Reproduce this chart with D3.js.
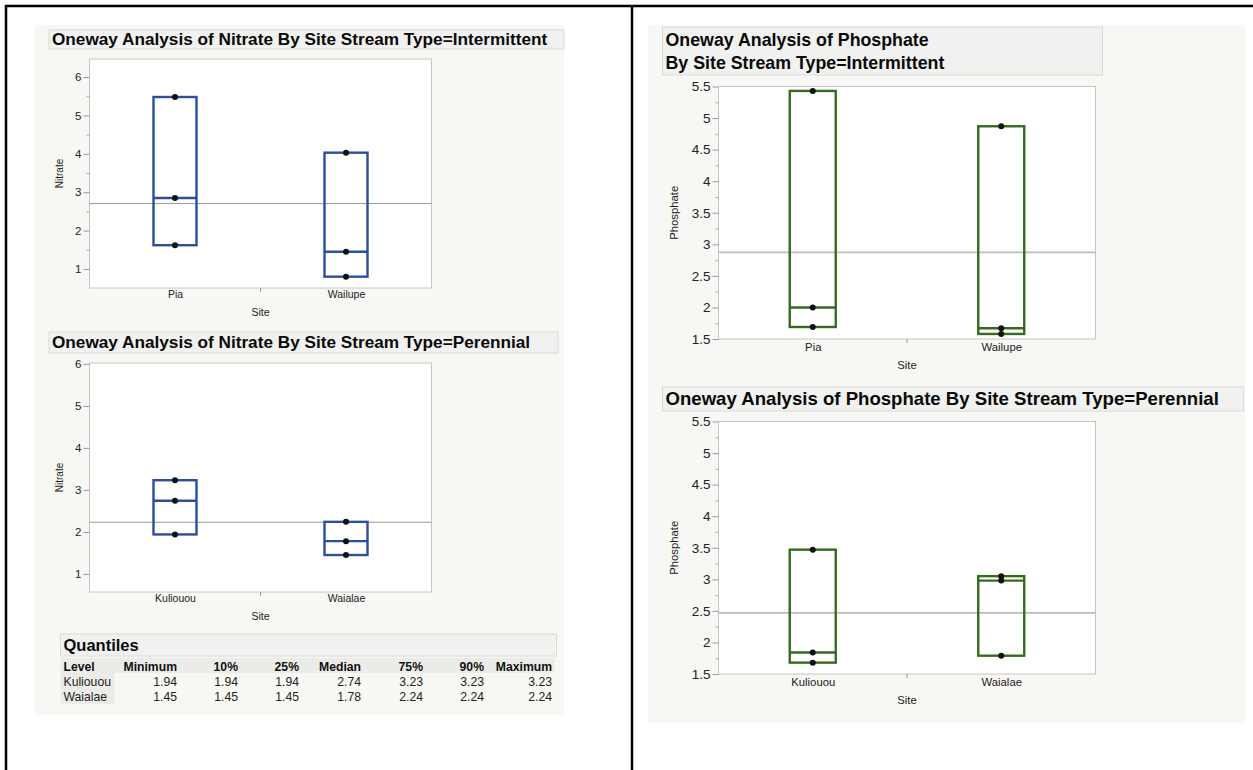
<!DOCTYPE html>
<html>
<head>
<meta charset="utf-8">
<script src="https://cdn.jsdelivr.net/npm/d3@7/dist/d3.min.js"></script>
<style>
  body { margin: 0; background: #fff; }
  svg { display: block; font-family: "Liberation Sans", Arial, Helvetica, sans-serif; }
</style>
</head>
<body>
<div id="container"></div>
<script>
// values: [min, median, max] per site (3 samples each)
const nitrateInterSites = ["Pia", "Wailupe"];
const nitrateInterValues = [[1.62, 2.85, 5.48], [0.80, 1.45, 4.03]];
const nitratePerSites = ["Kuliouou", "Waialae"];
const nitratePerValues = [[1.94, 2.74, 3.23], [1.45, 1.78, 2.24]];
const phosInterSites = ["Pia", "Wailupe"];
const phosInterValues = [[1.69, 2.00, 5.43], [1.58, 1.67, 4.87]];
const phosPerSites = ["Kuliouou", "Waialae"];
const phosPerValues = [[1.68, 1.84, 3.47], [1.79, 2.98, 3.05]];

const nitrateTicks = [1, 2, 3, 4, 5, 6];
const nitrateMinor = [1.5, 2.5, 3.5, 4.5, 5.5];
const phosTicks = [1.5, 2, 2.5, 3, 3.5, 4, 4.5, 5, 5.5];
const phosMinor = [1.75, 2.25, 2.75, 3.25, 3.75, 4.25, 4.75, 5.25];

const quantileHeaders = ["Level", "Minimum", "10%", "25%", "Median", "75%", "90%", "Maximum"];
const quantileLevels = ["Kuliouou", "Waialae"];
const quantileValues = [
  [1.94, 1.94, 1.94, 2.74, 3.23, 3.23, 3.23],
  [1.45, 1.45, 1.45, 1.78, 2.24, 2.24, 2.24]
];

const W = 1253, H = 770;
const blue = "#2b4e9e";
const green = "#366a1f";

const svg = d3.select("#container").append("svg")
  .attr("width", W).attr("height", H);

// panel backgrounds
svg.append("rect").attr("x", 35).attr("y", 25).attr("width", 529).attr("height", 690).attr("fill", "#f7f7f3");
svg.append("rect").attr("x", 648).attr("y", 25).attr("width", 597).attr("height", 698).attr("fill", "#f7f7f3");

// page borders
svg.append("line").attr("x1", 5).attr("x2", W).attr("y1", 6).attr("y2", 6).attr("stroke", "#000").attr("stroke-width", 2.5);
svg.append("line").attr("x1", 6).attr("x2", 6).attr("y1", 5).attr("y2", H).attr("stroke", "#000").attr("stroke-width", 2.5);
svg.append("line").attr("x1", 632).attr("x2", 632).attr("y1", 5).attr("y2", H).attr("stroke", "#000").attr("stroke-width", 2.5);

function titleBox(x, y, w, h, lines, size, baselines) {
  svg.append("rect").attr("x", x).attr("y", y).attr("width", w).attr("height", h)
    .attr("fill", "#f1f1f0").attr("stroke", "#dadada");
  svg.selectAll(null).data(lines).enter().append("text")
    .attr("x", x + 3).attr("y", (d, i) => baselines[i])
    .attr("font-size", size).attr("font-weight", "bold").attr("fill", "#0a0a0a")
    .text(d => d);
}

function oneway(o) {
  const y = d3.scaleLinear().domain(o.domain).range([o.y + o.h, o.y]);
  const x = d3.scalePoint().domain(o.sites).range([o.x, o.x + o.w]).padding(0.5);
  const g = svg.append("g");

  g.append("rect").attr("x", o.x).attr("y", o.y).attr("width", o.w).attr("height", o.h)
    .attr("fill", "#fff").attr("stroke", "#c6c6c6");

  // grand mean
  const mean = d3.mean(o.values.flat());
  g.append("line").attr("x1", o.x).attr("x2", o.x + o.w)
    .attr("y1", y(mean)).attr("y2", y(mean))
    .attr("stroke", o.meanColor).attr("stroke-width", o.meanWidth);

  const yAxis = g.append("g").attr("transform", `translate(${o.x},0)`)
    .call(d3.axisLeft(y).tickValues(o.ticks).tickSize(6).tickPadding(2).tickFormat(d3.format("")));
  yAxis.select(".domain").remove();
  yAxis.selectAll("line").attr("stroke", "#999");
  yAxis.selectAll("text").attr("fill", "#222").attr("font-size", o.tickFont)
    .attr("font-family", "Liberation Sans, Arial, sans-serif");

  if (o.minor) {
    const m = g.append("g").attr("transform", `translate(${o.x},0)`)
      .call(d3.axisLeft(y).tickValues(o.minor).tickSize(3).tickFormat(""));
    m.select(".domain").remove();
    m.selectAll("line").attr("stroke", "#aaa");
  }

  const xAxis = g.append("g").attr("transform", `translate(0,${o.y + o.h})`)
    .call(d3.axisBottom(x).tickSize(0).tickPadding(o.xPad));
  xAxis.select(".domain").remove();
  xAxis.selectAll("text").attr("fill", "#222").attr("font-size", o.labelFont)
    .attr("font-family", "Liberation Sans, Arial, sans-serif");
  g.append("line").attr("x1", o.x + o.w / 2).attr("x2", o.x + o.w / 2)
    .attr("y1", o.y + o.h).attr("y2", o.y + o.h + 4).attr("stroke", "#999");

  g.append("text").attr("x", o.x + o.w / 2).attr("y", o.y + o.h + o.siteOff)
    .attr("text-anchor", "middle").attr("font-size", o.labelFont).attr("fill", "#222").text("Site");
  g.append("text")
    .attr("transform", `translate(${o.yLabelX},${o.y + o.h / 2}) rotate(-90)`)
    .attr("dy", "0.35em").attr("text-anchor", "middle")
    .attr("font-size", o.yLabelFont).attr("fill", "#222").text(o.yLabel);

  const sites = g.selectAll(".site").data(o.values).enter().append("g").attr("class", "site");
  sites.append("rect")
    .attr("x", (d, i) => x(o.sites[i]) - o.boxW / 2)
    .attr("y", d => y(d3.max(d)))
    .attr("width", o.boxW)
    .attr("height", d => y(d3.min(d)) - y(d3.max(d)))
    .attr("fill", "none").attr("stroke", o.color).attr("stroke-width", 2.4);
  sites.append("line")
    .attr("x1", (d, i) => x(o.sites[i]) - o.boxW / 2)
    .attr("x2", (d, i) => x(o.sites[i]) + o.boxW / 2)
    .attr("y1", d => y(d3.median(d))).attr("y2", d => y(d3.median(d)))
    .attr("stroke", o.color).attr("stroke-width", 2.4);
  sites.each(function (d, i) {
    d3.select(this).selectAll("circle").data(d).enter().append("circle")
      .attr("cx", x(o.sites[i])).attr("cy", v => y(v)).attr("r", 3).attr("fill", "#111");
  });
}

// ---- left column: nitrate ----
titleBox(49, 30, 515, 19, ["Oneway Analysis of Nitrate By Site Stream Type=Intermittent"], 17.2, [45]);
oneway({
  x: 89.5, y: 59, w: 342, h: 229, domain: [0.505, 6.47],
  ticks: nitrateTicks, minor: nitrateMinor, sites: nitrateInterSites, values: nitrateInterValues,
  color: blue, boxW: 43, tickFont: 11.5, labelFont: 10.5, xPad: 3, siteOff: 27.5,
  yLabel: "Nitrate", yLabelX: 59.5, yLabelFont: 10, meanColor: "#9a9a9a", meanWidth: 1
});

titleBox(49, 332, 509, 21, ["Oneway Analysis of Nitrate By Site Stream Type=Perennial"], 17.2, [348]);
oneway({
  x: 89.5, y: 363, w: 342, h: 229, domain: [0.57, 6.02],
  ticks: nitrateTicks, minor: null, sites: nitratePerSites, values: nitratePerValues,
  color: blue, boxW: 43, tickFont: 11.5, labelFont: 10.5, xPad: 3, siteOff: 27.5,
  yLabel: "Nitrate", yLabelX: 59.5, yLabelFont: 10, meanColor: "#9a9a9a", meanWidth: 1
});

// quantiles table
titleBox(60.5, 634, 496, 22, ["Quantiles"], 16.5, [651]);
svg.append("rect").attr("x", 60.5).attr("y", 658).attr("width", 494).attr("height", 15).attr("fill", "#ebebe8");
svg.append("rect").attr("x", 60.5).attr("y", 673).attr("width", 54).attr("height", 31).attr("fill", "#ebebe8");
const colRight = [177, 238, 299, 361, 423, 484, 552];
svg.selectAll(".qh").data(quantileHeaders).enter().append("text")
  .attr("x", (d, i) => i === 0 ? 63.5 : colRight[i - 1])
  .attr("y", 670.5)
  .attr("text-anchor", (d, i) => i === 0 ? "start" : "end")
  .attr("font-size", 12.2).attr("font-weight", "bold").attr("fill", "#111")
  .text(d => d);
const qRows = svg.selectAll(".qr").data(quantileValues).enter().append("g")
  .attr("transform", (d, i) => `translate(0,${686 + i * 15})`);
qRows.append("text").attr("x", 63.5).attr("font-size", 12.2).attr("fill", "#222")
  .text((d, i) => quantileLevels[i]);
qRows.selectAll("text.v").data(d => d).enter().append("text").attr("class", "v")
  .attr("x", (d, i) => colRight[i]).attr("text-anchor", "end")
  .attr("font-size", 12.2).attr("fill", "#222")
  .text(d => d3.format(".2f")(d));

// ---- right column: phosphate ----
titleBox(662.5, 27, 440, 48, ["Oneway Analysis of Phosphate", "By Site Stream Type=Intermittent"], 17.8, [46, 69]);
oneway({
  x: 718.5, y: 86.5, w: 377, h: 252.5, domain: [1.5, 5.5],
  ticks: phosTicks, minor: phosMinor, sites: phosInterSites, values: phosInterValues,
  color: green, boxW: 46, tickFont: 13.5, labelFont: 11.3, xPad: 4, siteOff: 30,
  yLabel: "Phosphate", yLabelX: 674.5, yLabelFont: 11.3, meanColor: "#bdbdbd", meanWidth: 1.8
});

titleBox(662.5, 387, 581, 24, ["Oneway Analysis of Phosphate By Site Stream Type=Perennial"], 18.6, [405]);
oneway({
  x: 718.5, y: 421.5, w: 377, h: 252.5, domain: [1.5, 5.5],
  ticks: phosTicks, minor: phosMinor, sites: phosPerSites, values: phosPerValues,
  color: green, boxW: 46, tickFont: 13.5, labelFont: 11.3, xPad: 4, siteOff: 30,
  yLabel: "Phosphate", yLabelX: 674.5, yLabelFont: 11.3, meanColor: "#bdbdbd", meanWidth: 1.8
});
</script>
</body>
</html>
